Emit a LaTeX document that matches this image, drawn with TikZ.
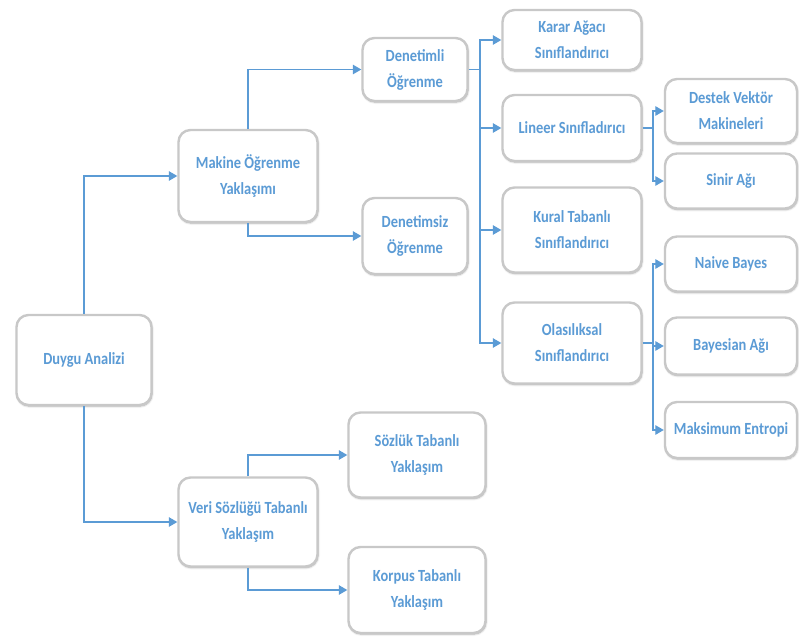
\documentclass[tikz,border=0pt]{standalone}
\usepackage{fontspec}
\setmainfont{Carlito}[FakeStretch=0.85]
\usetikzlibrary{arrows.meta,shadows.blur}
\definecolor{lblue}{RGB}{91,155,213}
\definecolor{bgray}{RGB}{200,200,200}
\begin{document}
\begin{tikzpicture}[x=1pt,y=-1pt,
  box/.style={draw=bgray, line width=2.4pt, fill=white, rounded corners=12pt,
    align=center, text=lblue, font=\fontsize{17}{26}\selectfont\bfseries,
    inner sep=2pt,
    blur shadow={shadow blur steps=6, shadow xshift=0.6pt, shadow yshift=-1.2pt, shadow opacity=35}},
  link/.style={draw=lblue, line width=1.3pt},
  arr/.style={link, -{Triangle[length=8.5pt,width=9.5pt]}}]
\useasboundingbox (0,0) rectangle (799,642);
% nodes
\node[box, minimum width=135pt, minimum height=90pt] (da) at (84,360) {Duygu Analizi};
\node[box, minimum width=139pt, minimum height=92pt] (mo) at (248,176) {Makine Öğrenme\\Yaklaşımı};
\node[box, minimum width=105pt, minimum height=63pt] (dl) at (415,69.5) {Denetimli\\Öğrenme};
\node[box, minimum width=105pt, minimum height=76pt] (ds) at (415,236) {Denetimsiz\\Öğrenme};
\node[box, minimum width=139pt, minimum height=60pt] (ka) at (572,40) {Karar Ağacı\\Sınıflandırıcı};
\node[box, minimum width=139pt, minimum height=66pt] (li) at (572,128) {Lineer Sınıfladırıcı};
\node[box, minimum width=139pt, minimum height=85pt] (kt) at (572,230) {Kural Tabanlı\\Sınıflandırıcı};
\node[box, minimum width=139pt, minimum height=81pt] (ol) at (572,343) {Olasılıksal\\Sınıflandırıcı};
\node[box, minimum width=132pt, minimum height=64pt] (dv) at (731,111) {Destek Vektör\\Makineleri};
\node[box, minimum width=132pt, minimum height=55pt] (sa) at (731,181) {Sinir Ağı};
\node[box, minimum width=132pt, minimum height=55pt] (nb) at (731,264) {Naive Bayes};
\node[box, minimum width=132pt, minimum height=57pt] (ba) at (731,346) {Bayesian Ağı};
\node[box, minimum width=132pt, minimum height=56pt] (me) at (731,430) {Maksimum Entropi};
\node[box, minimum width=139pt, minimum height=89pt] (vs) at (248,522) {Veri Sözlüğü Tabanlı\\Yaklaşım};
\node[box, minimum width=137pt, minimum height=85pt] (st) at (417,455) {Sözlük Tabanlı\\Yaklaşım};
\node[box, minimum width=137pt, minimum height=86pt] (kp) at (417,590) {Korpus Tabanlı\\Yaklaşım};
% junctions
\coordinate (j1) at (480,69.5);
\coordinate (j2) at (653,128);
\coordinate (j3) at (653,343);
% connectors
\draw[arr] (da.north) |- (mo.west);
\draw[arr] (da.south) |- (vs.west);
\draw[arr] (mo.north) |- (dl.west);
\draw[arr] (mo.south) |- (ds.west);
\draw[arr] (vs.north) |- (st.west);
\draw[arr] (vs.south) |- (kp.west);
\draw[link] (dl.east) -- (j1);
\draw[arr] (j1) |- (ka.west);
\draw[arr] (j1) |- (li.west);
\draw[arr] (j1) |- (kt.west);
\draw[arr] (j1) |- (ol.west);
\draw[link] (li.east) -- (j2);
\draw[arr] (j2) |- (dv.west);
\draw[arr] (j2) |- (sa.west);
\draw[link] (ol.east) -- (j3);
\draw[arr] (j3) |- (nb.west);
\draw[arr] (j3) |- (ba.west);
\draw[arr] (j3) |- (me.west);
\end{tikzpicture}
\end{document}
